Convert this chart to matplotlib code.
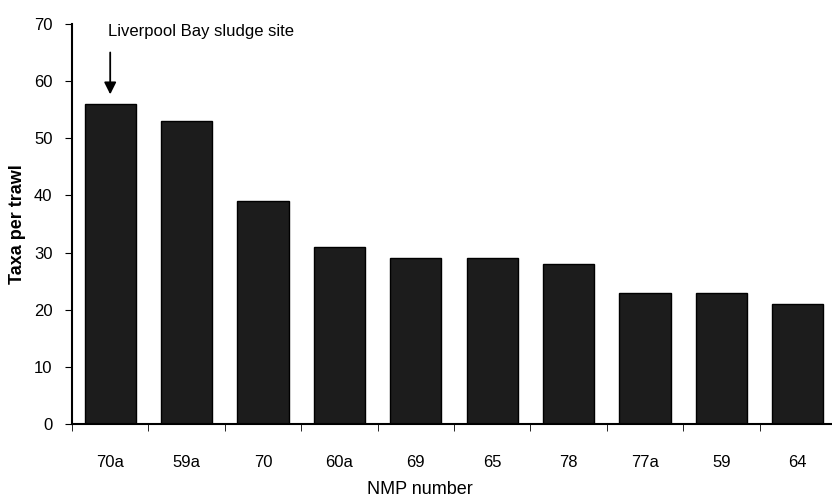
import numpy as np
import matplotlib.pyplot as plt

sites = ['70a', '59a', '70', '60a', '69', '65', '78', '77a', '59', '64']
taxa = [56, 53, 39, 31, 29, 29, 28, 23, 23, 21]
yticks = [0, 10, 20, 30, 40, 50, 60, 70]

plt.rcParams['font.family'] = ['Liberation Sans', 'DejaVu Sans']

fig = plt.figure(figsize=(8.32, 5.04), dpi=100)
ax = fig.add_axes([72 / 832, 80 / 504, 764 / 832, 400 / 504])

x = np.arange(len(sites))
ax.bar(x, taxa, width=0.67, color='#1c1c1c', edgecolor='black', linewidth=1)

ax.set_xlim(-0.5, len(sites) - 0.5)
ax.set_ylim(0, 70)
ax.set_yticks(yticks)
ax.set_yticklabels([str(t) for t in yticks], fontsize=12)

ax.set_xticks(x)
ax.set_xticklabels(sites, fontsize=12)
ax.set_xticks(np.arange(len(sites) + 1) - 0.5, minor=True)
ax.tick_params(axis='x', which='major', length=0, pad=22)
ax.tick_params(axis='x', which='minor', length=5, direction='out')
ax.tick_params(axis='y', length=5, direction='out', pad=9)

ax.spines['top'].set_visible(False)
ax.spines['right'].set_visible(False)
ax.spines['left'].set_linewidth(1.5)
ax.spines['bottom'].set_linewidth(1.5)

ax.set_xlabel('NMP number', fontsize=13, va='center')
ax.xaxis.set_label_coords(0.455, -0.165)
ax.set_ylabel('Taxa per trawl', fontsize=13, fontweight='bold', va='center')
ax.yaxis.set_label_coords(-0.071, 0.5)

ax.annotate('', xy=(0, 57.2), xytext=(0, 65.5),
            arrowprops=dict(arrowstyle='-|>', color='black', lw=1.3,
                            mutation_scale=18))
ax.text(-0.03, 68.7, 'Liverpool Bay sludge site', fontsize=12,
        ha='left', va='center')

fig.savefig('out.png', dpi=100)
